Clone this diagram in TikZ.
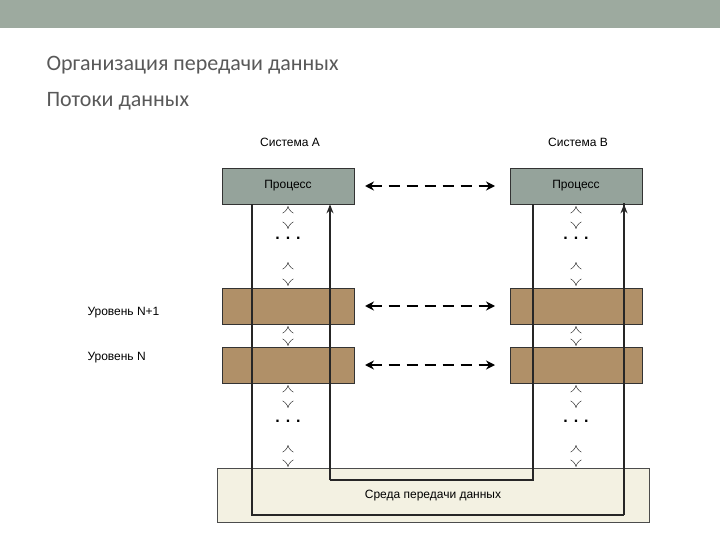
\documentclass[tikz,border=0pt]{standalone}
\usepackage{fontspec}
\setmainfont{Liberation Sans}
\newfontfamily\titlefont{Carlito}
\usetikzlibrary{arrows.meta}
\definecolor{banner}{HTML}{9DAA9F}
\definecolor{proc}{HTML}{95A39B}
\definecolor{layer}{HTML}{B09068}
\definecolor{medium}{HTML}{F3F1E2}
\definecolor{ttl}{HTML}{595959}
\begin{document}
\begin{tikzpicture}[x=1pt,y=-1pt,
  box/.style={draw=black!80,line width=0.6pt,minimum width=132pt,minimum height=36pt,inner sep=0pt,font=\fontsize{12}{14}\selectfont},
  peer/.style={line width=2.6pt,dash pattern=on 11pt off 7pt,{Stealth[length=9pt,width=9pt]}-{Stealth[length=9pt,width=9pt]}},
  updown/.style={double=white,draw=black!80,double distance=3.5pt,line width=0.5pt,{Implies}-{Implies}},
  flow/.style={line width=2.4pt,black!85},
  dots/.style={font=\bfseries\fontsize{16}{16}\selectfont},
  lbl/.style={font=\fontsize{12}{14}\selectfont}]
\useasboundingbox (0,0) rectangle (720,540);
\fill[banner] (0,0) rectangle (720,28);
\node[anchor=west,text=ttl,font=\titlefont\fontsize{22}{26}\selectfont] (t1) at (43,65) {Организация передачи данных};
\node[anchor=west,text=ttl,font=\titlefont\fontsize{22}{26}\selectfont] (t2) at (43,101) {Потоки данных};
\node[lbl] (sa) at (290,142) {Система A};
\node[lbl] (sb) at (578,142) {Система B};
\node[box,fill=proc] (pa) at (288,186) {Процесс};
\node[box,fill=proc] (pb) at (576,186) {Процесс};
\node[box,fill=layer] (a1) at (288,306) {};
\node[box,fill=layer] (b1) at (576,306) {};
\node[box,fill=layer] (a2) at (288,365) {};
\node[box,fill=layer] (b2) at (576,365) {};
\node[draw=black!70,line width=0.5pt,fill=medium,minimum width=432pt,minimum height=54pt] (med) at (433,495) {};
\node[lbl] (medt) at (433,496) {Среда передачи данных};
\node[lbl,anchor=west] (ln1) at (84,313) {Уровень N+1};
\node[lbl,anchor=west] (ln) at (84,358) {Уровень N};
% data flow
\coordinate (o1) at (252,515); \coordinate (o2) at (624,515);
\coordinate (i1) at (330,480); \coordinate (i2) at (533,480);
\draw[flow] (pa.south -| o1) -- (o1) -- (o2) edge[-{Stealth[length=9pt,width=7pt]}] (pb.south -| o2);
\draw[flow] (pb.south -| i2) -- (i2) -- (i1) edge[-{Stealth[length=9pt,width=7pt]}] (pa.south -| i1);
\draw[flow] (o2) -- ([yshift=1.2pt]pb.south -| o2);
% peer arrows
\coordinate (ca) at (365,0); \coordinate (cb) at (495,0);
\draw[peer] (pa.east -| ca) -- (pb.west -| cb);
\draw[peer] (a1.east -| ca) -- (b1.west -| cb);
\draw[peer] (a2.east -| ca) -- (b2.west -| cb);
% vertical interfaces
\foreach \x/\n in {288/l,576/r}{
  \draw[updown] (\x,206) -- (\x,229);
  \draw[updown] (\x,262) -- (\x,286);
  \draw[updown] (\x,326) -- (\x,346);
  \draw[updown] (\x,385) -- (\x,408);
  \draw[updown] (\x,445) -- (\x,467);
  \node[dots] (d1\n) at (\x,238) {. . .};
  \node[dots] (d2\n) at (\x,421) {. . .};
}
\end{tikzpicture}
\end{document}
